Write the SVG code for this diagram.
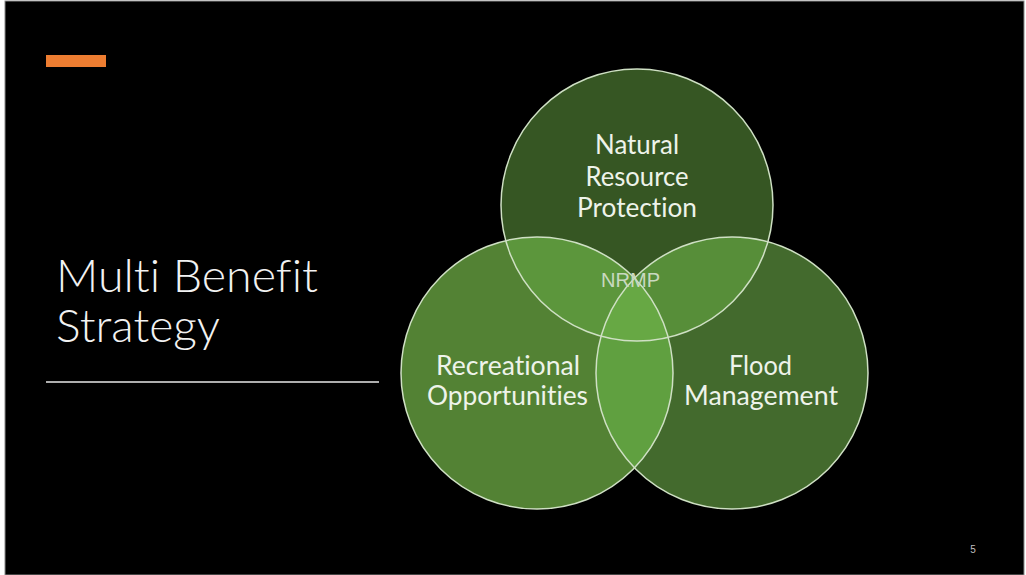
<svg xmlns="http://www.w3.org/2000/svg" width="1026" height="575" viewBox="0 0 1026 575">
  <style>
    text { font-variant-ligatures: none; font-feature-settings: "liga" 0, "clig" 0; }
    .lbl { font-family: Lato, "Open Sans", "Liberation Sans", sans-serif; font-size: 27px; fill: #eef3ea; text-anchor: middle; }
    .ring { fill: none; stroke: #cfe0c4; stroke-width: 1.5; }
    .title { font-family: Lato, "Open Sans", "Liberation Sans", sans-serif; font-weight: 300; font-size: 46px; fill: #f2f2f2; }
  </style>
  <defs>
    <clipPath id="cTop"><circle cx="637" cy="205" r="136"/></clipPath>
    <clipPath id="cLeft"><circle cx="537" cy="373" r="136"/></clipPath>
    <clipPath id="cRight"><circle cx="732" cy="373" r="136"/></clipPath>
  </defs>
  <rect x="0" y="0" width="1026" height="575" fill="#ffffff"/>
  <rect x="5" y="1" width="1019" height="574" fill="#000000" stroke="#8a8a8a" stroke-width="1"/>
  <rect x="46" y="55" width="60" height="12" fill="#ed7d31"/>
  <text class="title" x="56" y="292" textLength="262" lengthAdjust="spacingAndGlyphs">Multi Benefit</text>
  <text class="title" x="56" y="342" textLength="164" lengthAdjust="spacingAndGlyphs">Strategy</text>
  <line x1="46" y1="382" x2="379" y2="382" stroke="#e8e8e8" stroke-width="1.5"/>

  <g id="venn">
    <circle cx="637" cy="205" r="136" fill="#365623"/>
    <circle cx="537" cy="373" r="136" fill="#538234"/>
    <circle cx="732" cy="373" r="136" fill="#436a2d"/>
    <circle cx="537" cy="373" r="136" fill="#5c963c" clip-path="url(#cTop)"/>
    <circle cx="732" cy="373" r="136" fill="#578e39" clip-path="url(#cTop)"/>
    <circle cx="732" cy="373" r="136" fill="#60a040" clip-path="url(#cLeft)"/>
    <g clip-path="url(#cTop)">
      <circle cx="732" cy="373" r="136" fill="#67a844" clip-path="url(#cLeft)"/>
    </g>
  </g>
  <g id="node-nrp">
    <circle class="ring" cx="637" cy="205" r="136"/>
    <text class="lbl" x="637" y="154" textLength="84" lengthAdjust="spacingAndGlyphs">Natural</text>
    <text class="lbl" x="637" y="186" textLength="103" lengthAdjust="spacingAndGlyphs">Resource</text>
    <text class="lbl" x="637" y="217" textLength="120" lengthAdjust="spacingAndGlyphs">Protection</text>
  </g>
  <g id="node-rec">
    <circle class="ring" cx="537" cy="373" r="136"/>
    <text class="lbl" x="508" y="375" textLength="144" lengthAdjust="spacingAndGlyphs">Recreational</text>
    <text class="lbl" x="507.5" y="405" textLength="161" lengthAdjust="spacingAndGlyphs">Opportunities</text>
  </g>
  <g id="node-flood">
    <circle class="ring" cx="732" cy="373" r="136"/>
    <text class="lbl" x="760.5" y="375" textLength="63" lengthAdjust="spacingAndGlyphs">Flood</text>
    <text class="lbl" x="761" y="405" textLength="154" lengthAdjust="spacingAndGlyphs">Management</text>
  </g>
  <g id="node-nrmp">
    <text x="630.5" y="287" font-family="Liberation Sans, Arial, sans-serif" font-size="20" fill="#c9d9c0" text-anchor="middle" textLength="59" lengthAdjust="spacingAndGlyphs">NRMP</text>
  </g>
  <g id="connectors"></g>
  <text x="973" y="553" font-family="Liberation Sans, Arial, sans-serif" font-size="10" fill="#bfbfbf" text-anchor="middle">5</text>
</svg>
